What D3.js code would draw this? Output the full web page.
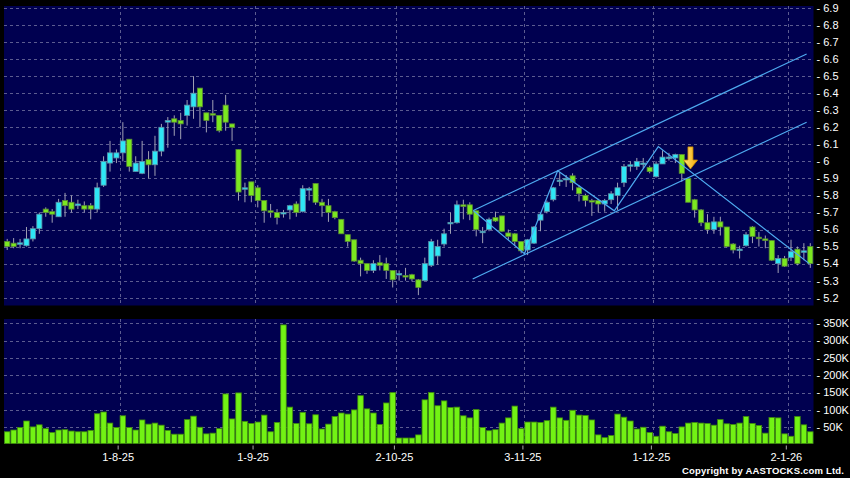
<!DOCTYPE html>
<html>
<head>
<meta charset="utf-8">
<script src="https://cdn.jsdelivr.net/npm/d3@7/dist/d3.min.js"></script>
<style>
body { margin: 0; background: #000; }
text { font-family: "Liberation Sans", Arial, sans-serif; fill: #fff; }
</style>
</head>
<body>
<svg width="850" height="478"></svg>
<script>
// daily candles, oldest first
var open = [5.53,5.52,5.52,5.505,5.545,5.605,5.72,5.705,5.675,5.77,5.76,5.74,5.74,5.74,5.72,5.86,5.99,6.02,6.05,6.13,
    5.94,5.93,6.01,5.98,6.06,6.23,6.25,6.24,6.27,6.32,6.43,6.285,6.28,6.27,6.33,6.22,6.07,5.84,5.88,5.845,
    5.77,5.71,5.70,5.695,5.715,5.75,5.705,5.835,5.87,5.76,5.74,5.705,5.66,5.57,5.54,5.42,5.40,5.36,5.405,5.40,
    5.36,5.338,5.33,5.335,5.305,5.30,5.39,5.445,5.515,5.64,5.64,5.745,5.745,5.71,5.585,5.60,5.67,5.68,5.58,5.575,
    5.53,5.48,5.52,5.655,5.705,5.775,5.885,5.895,5.915,5.845,5.80,5.77,5.77,5.75,5.775,5.80,5.875,5.975,5.97,5.985,
    5.965,5.91,5.985,6.02,6.02,6.04,5.90,5.775,5.715,5.64,5.60,5.645,5.615,5.515,5.48,5.505,5.615,5.555,5.545,5.535,
    5.40,5.43,5.435,5.485,5.475,5.50];
var high = [5.545,5.55,5.545,5.615,5.62,5.70,5.73,5.72,5.78,5.815,5.80,5.775,5.765,5.755,5.875,6.03,6.12,6.07,6.23,6.13,
    6.03,6.12,6.06,6.15,6.22,6.26,6.27,6.285,6.36,6.50,6.43,6.285,6.36,6.27,6.39,6.22,6.07,5.875,5.88,5.86,
    5.77,5.75,5.72,5.715,5.745,5.765,5.86,5.85,5.87,5.78,5.78,5.71,5.66,5.57,5.54,5.435,5.40,5.42,5.45,5.435,
    5.36,5.36,5.375,5.34,5.31,5.435,5.545,5.54,5.605,5.70,5.77,5.775,5.76,5.71,5.615,5.67,5.705,5.68,5.60,5.58,
    5.53,5.545,5.62,5.695,5.77,5.85,5.935,5.92,5.93,5.86,5.81,5.78,5.78,5.78,5.825,5.875,5.985,6.00,6.02,6.02,
    5.975,6.00,6.065,6.05,6.045,6.04,5.90,5.78,5.72,5.69,5.675,5.675,5.615,5.52,5.505,5.585,5.62,5.585,5.565,5.535,
    5.45,5.445,5.54,5.50,5.52,5.52];
var low = [5.48,5.49,5.49,5.50,5.53,5.575,5.675,5.64,5.675,5.675,5.70,5.72,5.70,5.66,5.70,5.85,5.94,5.99,6.00,5.94,
    5.94,5.925,5.90,5.915,6.03,6.08,6.15,6.13,6.21,6.25,6.20,6.17,6.23,6.17,6.18,6.12,5.77,5.76,5.76,5.73,
    5.64,5.67,5.63,5.67,5.66,5.675,5.70,5.77,5.745,5.675,5.645,5.66,5.575,5.50,5.41,5.325,5.34,5.345,5.36,5.31,
    5.26,5.30,5.30,5.295,5.215,5.30,5.38,5.395,5.50,5.575,5.635,5.66,5.655,5.56,5.52,5.59,5.645,5.585,5.54,5.505,
    5.46,5.45,5.515,5.59,5.695,5.765,5.855,5.85,5.83,5.765,5.735,5.68,5.70,5.705,5.75,5.715,5.85,5.94,5.95,5.96,
    5.93,5.905,5.985,6.005,5.99,5.88,5.76,5.67,5.62,5.575,5.575,5.565,5.495,5.46,5.43,5.50,5.52,5.50,5.49,5.415,
    5.345,5.38,5.415,5.39,5.42,5.375];
var close = [5.50,5.50,5.522,5.545,5.605,5.69,5.70,5.69,5.76,5.74,5.72,5.75,5.72,5.72,5.845,6.00,6.05,6.05,6.12,5.97,
    5.99,6.00,5.98,6.06,6.20,6.24,6.23,6.22,6.33,6.40,6.32,6.24,6.275,6.18,6.23,6.20,5.82,5.845,5.80,5.77,
    5.71,5.705,5.67,5.70,5.74,5.70,5.84,5.84,5.76,5.74,5.70,5.67,5.575,5.53,5.415,5.40,5.36,5.40,5.39,5.36,
    5.305,5.342,5.328,5.31,5.26,5.40,5.53,5.50,5.575,5.642,5.745,5.735,5.69,5.60,5.59,5.66,5.65,5.59,5.56,5.53,
    5.475,5.54,5.615,5.69,5.76,5.845,5.89,5.90,5.875,5.81,5.77,5.765,5.75,5.77,5.81,5.845,5.97,5.98,6.00,5.99,
    5.94,5.985,6.025,6.025,6.04,5.93,5.76,5.715,5.64,5.60,5.645,5.615,5.50,5.48,5.485,5.57,5.56,5.55,5.535,5.42,
    5.43,5.385,5.47,5.40,5.475,5.40];
var volume = [37,42,49,68,51,57,46,35,42,43,39,37,37,41,89,94,62,49,83,49,
    42,71,59,62,56,41,30,30,72,82,50,31,33,46,146,74,149,67,61,65,
    85,37,64,345,108,61,93,60,86,45,59,81,91,88,100,141,103,91,58,120,
    150,19,19,19,28,129,150,112,126,107,108,83,77,101,49,40,43,62,77,111,
    46,65,65,64,69,108,77,70,99,85,84,71,28,20,26,88,79,68,45,50,
    35,24,53,37,32,51,62,64,62,61,56,72,60,58,62,81,61,55,33,78,
    77,31,24,81,57,37]; // thousands of shares

var dateLabels = ["1-8-25", "1-9-25", "2-10-25", "3-11-25", "1-12-25", "2-1-26"],
    dateSlots = [18, 39, 61, 81, 101, 122]; // bar slot where each month starts

var priceTicks = d3.range(52, 70).map(function(d) { return d / 10; }),
    volumeTicks = [50, 100, 150, 200, 250, 300, 350];

// drawn studies: channel, zigzag and signal arrow (slot, price)
var channelUpper = [[73.04, 5.712], [124.93, 6.63]],
    channelLower = [[72.95, 5.31], [124.93, 6.23]],
    zigzag = [[73.04, 5.712], [81.01, 5.458], [86.18, 5.945], [94.99, 5.71], [101.84, 6.087], [125.34, 5.40]],
    signalArrow = {slot: 106.85, top: 6.085, tip: 5.955};

var n = open.length,
    left = 4,
    right = 813.5,
    price = {top: 6, bottom: 305.5},
    vol = {top: 319, bottom: 443.5};

var x = d3.scaleBand().domain(d3.range(n)).range([left, right]),
    xs = d3.scaleLinear().domain([0, n]).range([left, right]),
    y = d3.scaleLinear().domain([5.2, 6.9]).range([297.7, 8]),
    yv = d3.scaleLinear().domain([0, 362]).range([444.6, vol.top]);

var svg = d3.select("svg");

var defs = svg.append("defs");
var grad = defs.append("linearGradient")
    .attr("id", "arrowFill")
    .attr("x1", 0).attr("x2", 1).attr("y1", 0).attr("y2", 0);
grad.append("stop").attr("offset", "0%").attr("stop-color", "#ffe680");
grad.append("stop").attr("offset", "100%").attr("stop-color", "#f5a800");

// panels
[price, vol].forEach(function(p) {
    svg.append("rect")
        .attr("x", left)
        .attr("y", p.top)
        .attr("width", right - left)
        .attr("height", p.bottom - p.top)
        .attr("fill", "#000050");
});

var grid = svg.append("g")
    .attr("stroke", "#5c5c90")
    .attr("stroke-width", 1)
    .attr("stroke-dasharray", "3,3")
    .attr("shape-rendering", "crispEdges");

grid.selectAll(".hp")
    .data(priceTicks)
    .enter().append("line")
    .attr("x1", left).attr("x2", right)
    .attr("y1", function(d) { return Math.round(y(d)) + 0.5; })
    .attr("y2", function(d) { return Math.round(y(d)) + 0.5; });

grid.selectAll(".hv")
    .data(volumeTicks)
    .enter().append("line")
    .attr("x1", left).attr("x2", right)
    .attr("y1", function(d) { return Math.round(yv(d)) + 0.5; })
    .attr("y2", function(d) { return Math.round(yv(d)) + 0.5; });

dateSlots.forEach(function(s) {
    var gx = Math.round(xs(s)) + 0.5;
    grid.append("line").attr("x1", gx).attr("x2", gx).attr("y1", price.top).attr("y2", price.bottom);
    grid.append("line").attr("x1", gx).attr("x2", gx).attr("y1", vol.top).attr("y2", vol.bottom);
});

// candles
var bodyW = x.bandwidth() * 0.8;

var candle = svg.selectAll(".candle")
    .data(d3.range(n))
    .enter().append("g")
    .attr("class", "candle")
    .attr("transform", function(i) {
        return "translate(" + (x(i) + x.bandwidth() / 2) + ",0)";
    });

candle.append("line")
    .attr("y1", function(i) { return y(high[i]); })
    .attr("y2", function(i) { return y(low[i]); })
    .attr("stroke", "#a0a0b4")
    .attr("stroke-width", 1);

candle.append("rect")
    .attr("x", -bodyW / 2)
    .attr("width", bodyW)
    .attr("y", function(i) { return y(Math.max(open[i], close[i])); })
    .attr("height", function(i) { return Math.max(1.5, Math.abs(y(open[i]) - y(close[i]))); })
    .attr("fill", function(i) { return close[i] >= open[i] ? "#2ee6f5" : "#7be820"; })
    .attr("stroke", function(i) { return close[i] >= open[i] ? "#5d8ea6" : "#5a8a34"; })
    .attr("stroke-width", 0.8);

// volume bars
var volW = x.bandwidth() * 0.86;

svg.selectAll(".vbar")
    .data(d3.range(n))
    .enter().append("rect")
    .attr("class", "vbar")
    .attr("x", function(i) { return x(i) + (x.bandwidth() - volW) / 2; })
    .attr("width", volW)
    .attr("y", function(i) { return yv(volume[i]); })
    .attr("height", function(i) { return vol.bottom - yv(volume[i]); })
    .attr("fill", "#72f214")
    .attr("stroke", "#3f8a0c")
    .attr("stroke-width", 0.8);

// studies
var line = d3.line()
    .x(function(d) { return xs(d[0]); })
    .y(function(d) { return y(d[1]); });

[channelUpper, channelLower, zigzag].forEach(function(pts) {
    svg.append("path")
        .attr("d", line(pts))
        .attr("fill", "none")
        .attr("stroke", "#4eaaf0")
        .attr("stroke-width", 1.2);
});

var ax = xs(signalArrow.slot),
    aTop = y(signalArrow.top),
    aTip = y(signalArrow.tip),
    aNeck = aTip - 9;
svg.append("path")
    .attr("d", "M" + (ax - 2.5) + "," + aTop + "H" + (ax + 2.5) + "V" + aNeck +
        "H" + (ax + 7) + "L" + ax + "," + aTip + "L" + (ax - 7) + "," + aNeck +
        "H" + (ax - 2.5) + "Z")
    .attr("fill", "url(#arrowFill)")
    .attr("stroke", "#c98a00")
    .attr("stroke-width", 0.8);

// right axis labels
var axisX = right + 3;

svg.selectAll(".pt")
    .data(priceTicks)
    .enter().append("text")
    .attr("x", axisX)
    .attr("y", function(d) { return y(d); })
    .attr("dy", "0.35em")
    .style("font-size", "11px")
    .text(function(d) { return "- " + d; });

svg.selectAll(".vt")
    .data(volumeTicks)
    .enter().append("text")
    .attr("x", axisX)
    .attr("y", function(d) { return yv(d); })
    .attr("dy", "0.35em")
    .style("font-size", "11px")
    .text(function(d) { return "- " + d + "K"; });

// date axis
dateSlots.forEach(function(s, k) {
    var tx = xs(s) - 1.5;
    svg.append("line")
        .attr("x1", tx).attr("x2", tx)
        .attr("y1", vol.bottom + 2).attr("y2", vol.bottom + 6)
        .attr("stroke", "#aaa");
    svg.append("text")
        .attr("x", tx)
        .attr("y", 461)
        .attr("text-anchor", "middle")
        .style("font-size", "11px")
        .text(dateLabels[k]);
});

svg.append("text")
    .attr("x", 844)
    .attr("y", 474)
    .attr("text-anchor", "end")
    .attr("textLength", 162)
    .attr("lengthAdjust", "spacing")
    .style("font-size", "9.5px")
    .style("font-weight", "bold")
    .text("Copyright by AASTOCKS.com Ltd.");
</script>
</body>
</html>
